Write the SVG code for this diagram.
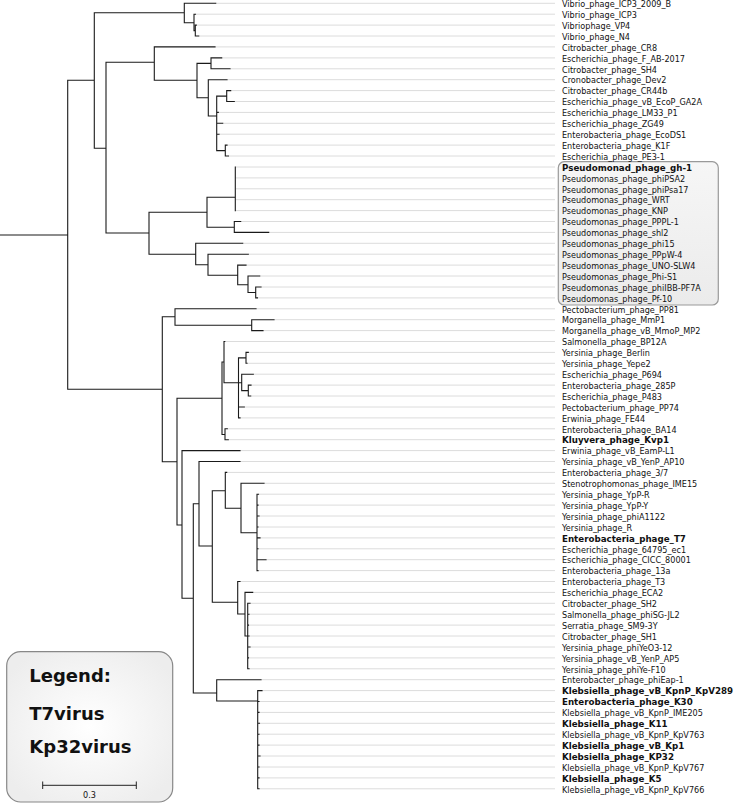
<svg xmlns="http://www.w3.org/2000/svg" width="738" height="803" viewBox="0 0 738 803">
<style>
.br{fill:none;stroke:#1a1a1a;stroke-width:1.1;stroke-linecap:square}
.gd{fill:none;stroke:#dcdcdc;stroke-width:1}
.lbl{font-family:"DejaVu Sans",Verdana,sans-serif;font-size:8.1px;fill:#111}
.b{font-weight:bold;font-size:8.7px}
.lg{font-family:"DejaVu Sans",Verdana,sans-serif;font-size:18px;font-weight:bold;fill:#111}
</style>
<defs>
<linearGradient id="hl" x1="0" y1="0" x2="0" y2="1">
<stop offset="0" stop-color="#f6f6f6"/><stop offset="1" stop-color="#ebebeb"/>
</linearGradient>
<radialGradient id="lgf" cx="0.5" cy="0.5" r="0.6">
<stop offset="0" stop-color="#ffffff"/><stop offset="1" stop-color="#ededed"/>
</radialGradient>
</defs>
<rect id="highlight" x="558.3" y="161.7" width="160" height="143.3" rx="6" fill="url(#hl)" stroke="#999" stroke-width="1.2"/>
<g id="connectors">
<path class="gd" d="M215.7,3.3H555M195.5,14.2H555M196.3,25.1H555M198.7,36H555M215,46.9H555M221.7,57.9H555M230,68.8H555M227,79.7H555M230.7,90.6H555M234.3,101.5H555M218.3,112.4H555M222.7,123.3H555M219,134.2H555M227,145.1H555M228.5,156H555M235.3,167H555M235.3,177.9H555M235.3,188.8H555M235.3,199.7H555M235.3,210.6H555M240.7,221.5H555M268.7,232.4H555M242.7,243.3H555M248.3,254.2H555M246,265.1H555M259.7,276H555M261,287H555M257.5,297.9H555M256,308.8H555M274,319.7H555M263,330.6H555M224.8,341.5H555M248.3,352.4H555M247,363.3H555M253.3,374.2H555M251,385.1H555M250.7,396H555M244.3,407H555M240,417.9H555M227.3,428.8H555M228.3,439.7H555M240,450.6H555M240,461.5H555M226.7,472.4H555M264,483.3H555M258.5,494.2H555M258,505.1H555M259,516H555M258,527H555M260,537.9H555M258,548.8H555M266,559.7H555M258,570.6H555M240,581.5H555M252.7,592.4H555M250,603.3H555M249,614.2H555M248.5,625.1H555M249,636H555M250,647H555M248.5,657.9H555M249,668.8H555M261,679.7H555M262,690.6H555M259,701.5H555M259,712.4H555M259.5,723.3H555M259,734.2H555M259,745.1H555M260,756H555M259,767H555M259,777.9H555M259,788.8H555"/>
<path class="br" d="M0,235H67.7
M67.7,80.3V389.3M67.7,80.3H94.3M67.7,389.3H162.3
M94.3,12.7V148.3M94.3,12.7H184.3M94.3,148.3H106
M184.3,3.3V22.7M184.3,3.3H215.7M184.3,22.7H194
M194,14.2V30.6M194,14.2H195.5M194,30.6H195.3
M195.3,25.1V36M195.3,25.1H196.3M195.3,36H198.7
M106,62.3V233M106,62.3H154.3M106,233H149
M154.3,46.9V80.3M154.3,46.9H215M154.3,80.3H197
M197,63.4V97.7M197,63.4H211M197,97.7H208.3
M211,57.9V68.8M211,57.9H221.7M211,68.8H230
M208.3,79.7V116M208.3,79.7H227M208.3,116H216.7
M216.7,96.1V150.6M216.7,96.1H226.7M216.7,112.4H218.3M216.7,123.3H222.7M216.7,134.2H219M216.7,150.6H225.3
M226.7,90.6V101.5M226.7,90.6H230.7M226.7,101.5H234.3
M225.3,145.1V156M225.3,145.1H227M225.3,156H228.5
M149,212.3V254.3M149,212.3H207M149,254.3H195.7
M207,197.3V227.3M207,197.3H235.3M207,227.3H234.3
M235.3,167V210.6
M234.3,221.5V232.4M234.3,221.5H240.7M234.3,232.4H268.7
M195.7,243.3V264.7M195.7,243.3H242.7M195.7,264.7H208
M208,254.2V275.3M208,254.2H248.3M208,275.3H237.7
M237.7,265.1V284.7M237.7,265.1H246M237.7,284.7H248
M248,276V292.5M248,276H259.7M248,292.5H255.7
M255.7,287V297.9M255.7,287H261M255.7,297.9H257.5
M162.3,316.7V461.7M162.3,316.7H175M162.3,461.7H177
M175,308.8V325.2M175,308.8H256M175,325.2H251.7
M251.7,319.7V330.6M251.7,319.7H274M251.7,330.6H263
M177,398.3V525M177,398.3H222M177,525H182
M222,362V434.5M222,362H224M222,434.5H225
M224,341.5V382.7M224,341.5H224.8M224,382.7H238.5
M238.5,357.9V417.9M238.5,357.9H246M238.5,382.7H241.7M238.5,407H244.3M238.5,417.9H240
M246,352.4V363.3M246,352.4H248.3M246,363.3H247
M241.7,374.2V390.6M241.7,374.2H253.3M241.7,390.6H248.3
M248.3,385.1V396M248.3,385.1H251M248.3,396H250.7
M225,428.8V439.7M225,428.8H227.3M225,439.7H228.3
M182,450.6V598.3M182,450.6H240M182,598.3H193.3
M193.3,503.7V693M193.3,503.7H199M193.3,693H216.7
M199,461.5V546M199,461.5H240M199,546H212.3
M212.3,490.7V602.3M212.3,490.7H225.3M212.3,602.3H237.7
M225.3,472.4V508.3M225.3,472.4H226.7M225.3,508.3H241
M241,483.3V532.7M241,483.3H264M241,532.7H257
M257,494.2V570.6M257,494.2H258.5M257,505.1H258M257,516H259M257,527H258M257,537.9H260M257,548.8H258M257,559.7H266M257,570.6H258
M237.7,581.5V614M237.7,581.5H240M237.7,614H245
M245,592.4V636M245,592.4H252.7M245,636H247.7
M247.7,603.3V668.8M247.7,603.3H250M247.7,614.2H249M247.7,625.1H248.5M247.7,636H249M247.7,647H250M247.7,657.9H248.5M247.7,668.8H249
M216.7,679.7V701M216.7,679.7H261M216.7,701H257.7
M257.7,690.6V788.8M257.7,690.6H262M257.7,701.5H259M257.7,712.4H259M257.7,723.3H259.5M257.7,734.2H259M257.7,745.1H259M257.7,756H260M257.7,767H259M257.7,777.9H259M257.7,788.8H259"/>
</g>
<g id="leaf1"><text class="lbl" x="562" y="7.1">Vibrio_phage_ICP3_2009_B</text></g>
<g id="leaf2"><text class="lbl" x="562" y="17.9">Vibrio_phage_ICP3</text></g>
<g id="leaf3"><text class="lbl" x="562" y="28.8">Vibriophage_VP4</text></g>
<g id="leaf4"><text class="lbl" x="562" y="39.7">Vibrio_phage_N4</text></g>
<g id="leaf5"><text class="lbl" x="562" y="50.6">Citrobacter_phage_CR8</text></g>
<g id="leaf6"><text class="lbl" x="562" y="61.6">Escherichia_phage_F_AB-2017</text></g>
<g id="leaf7"><text class="lbl" x="562" y="72.5">Citrobacter_phage_SH4</text></g>
<g id="leaf8"><text class="lbl" x="562" y="83.4">Cronobacter_phage_Dev2</text></g>
<g id="leaf9"><text class="lbl" x="562" y="94.3">Citrobacter_phage_CR44b</text></g>
<g id="leaf10"><text class="lbl" x="562" y="105.2">Escherichia_phage_vB_EcoP_GA2A</text></g>
<g id="leaf11"><text class="lbl" x="562" y="116.1">Escherichia_phage_LM33_P1</text></g>
<g id="leaf12"><text class="lbl" x="562" y="127">Escherichia_phage_ZG49</text></g>
<g id="leaf13"><text class="lbl" x="562" y="137.9">Enterobacteria_phage_EcoDS1</text></g>
<g id="leaf14"><text class="lbl" x="562" y="148.8">Enterobacteria_phage_K1F</text></g>
<g id="leaf15"><text class="lbl" x="562" y="159.7">Escherichia_phage_PE3-1</text></g>
<g id="leaf16"><text class="lbl b" x="562" y="170.7">Pseudomonad_phage_gh-1</text></g>
<g id="leaf17"><text class="lbl" x="562" y="181.6">Pseudomonas_phage_phiPSA2</text></g>
<g id="leaf18"><text class="lbl" x="562" y="192.5">Pseudomonas_phage_phiPsa17</text></g>
<g id="leaf19"><text class="lbl" x="562" y="203.4">Pseudomonas_phage_WRT</text></g>
<g id="leaf20"><text class="lbl" x="562" y="214.3">Pseudomonas_phage_KNP</text></g>
<g id="leaf21"><text class="lbl" x="562" y="225.2">Pseudomonas_phage_PPPL-1</text></g>
<g id="leaf22"><text class="lbl" x="562" y="236.1">Pseudomonas_phage_shl2</text></g>
<g id="leaf23"><text class="lbl" x="562" y="247">Pseudomonas_phage_phi15</text></g>
<g id="leaf24"><text class="lbl" x="562" y="257.9">Pseudomonas_phage_PPpW-4</text></g>
<g id="leaf25"><text class="lbl" x="562" y="268.8">Pseudomonas_phage_UNO-SLW4</text></g>
<g id="leaf26"><text class="lbl" x="562" y="279.7">Pseudomonas_phage_Phi-S1</text></g>
<g id="leaf27"><text class="lbl" x="562" y="290.7">Pseudomonas_phage_phiIBB-PF7A</text></g>
<g id="leaf28"><text class="lbl" x="562" y="301.6">Pseudomonas_phage_Pf-10</text></g>
<g id="leaf29"><text class="lbl" x="562" y="312.5">Pectobacterium_phage_PP81</text></g>
<g id="leaf30"><text class="lbl" x="562" y="323.4">Morganella_phage_MmP1</text></g>
<g id="leaf31"><text class="lbl" x="562" y="334.3">Morganella_phage_vB_MmoP_MP2</text></g>
<g id="leaf32"><text class="lbl" x="562" y="345.2">Salmonella_phage_BP12A</text></g>
<g id="leaf33"><text class="lbl" x="562" y="356.1">Yersinia_phage_Berlin</text></g>
<g id="leaf34"><text class="lbl" x="562" y="367">Yersinia_phage_Yepe2</text></g>
<g id="leaf35"><text class="lbl" x="562" y="377.9">Escherichia_phage_P694</text></g>
<g id="leaf36"><text class="lbl" x="562" y="388.8">Enterobacteria_phage_285P</text></g>
<g id="leaf37"><text class="lbl" x="562" y="399.7">Escherichia_phage_P483</text></g>
<g id="leaf38"><text class="lbl" x="562" y="410.7">Pectobacterium_phage_PP74</text></g>
<g id="leaf39"><text class="lbl" x="562" y="421.6">Erwinia_phage_FE44</text></g>
<g id="leaf40"><text class="lbl" x="562" y="432.5">Enterobacteria_phage_BA14</text></g>
<g id="leaf41"><text class="lbl b" x="562" y="443.4">Kluyvera_phage_Kvp1</text></g>
<g id="leaf42"><text class="lbl" x="562" y="454.3">Erwinia_phage_vB_EamP-L1</text></g>
<g id="leaf43"><text class="lbl" x="562" y="465.2">Yersinia_phage_vB_YenP_AP10</text></g>
<g id="leaf44"><text class="lbl" x="562" y="476.1">Enterobacteria_phage_3/7</text></g>
<g id="leaf45"><text class="lbl" x="562" y="487">Stenotrophomonas_phage_IME15</text></g>
<g id="leaf46"><text class="lbl" x="562" y="497.9">Yersinia_phage_YpP-R</text></g>
<g id="leaf47"><text class="lbl" x="562" y="508.8">Yersinia_phage_YpP-Y</text></g>
<g id="leaf48"><text class="lbl" x="562" y="519.7">Yersinia_phage_phiA1122</text></g>
<g id="leaf49"><text class="lbl" x="562" y="530.7">Yersinia_phage_R</text></g>
<g id="leaf50"><text class="lbl b" x="562" y="541.6">Enterobacteria_phage_T7</text></g>
<g id="leaf51"><text class="lbl" x="562" y="552.5">Escherichia_phage_64795_ec1</text></g>
<g id="leaf52"><text class="lbl" x="562" y="563.4">Escherichia_phage_CICC_80001</text></g>
<g id="leaf53"><text class="lbl" x="562" y="574.3">Enterobacteria_phage_13a</text></g>
<g id="leaf54"><text class="lbl" x="562" y="585.2">Enterobacteria_phage_T3</text></g>
<g id="leaf55"><text class="lbl" x="562" y="596.1">Escherichia_phage_ECA2</text></g>
<g id="leaf56"><text class="lbl" x="562" y="607">Citrobacter_phage_SH2</text></g>
<g id="leaf57"><text class="lbl" x="562" y="617.9">Salmonella_phage_phiSG-JL2</text></g>
<g id="leaf58"><text class="lbl" x="562" y="628.8">Serratia_phage_SM9-3Y</text></g>
<g id="leaf59"><text class="lbl" x="562" y="639.7">Citrobacter_phage_SH1</text></g>
<g id="leaf60"><text class="lbl" x="562" y="650.7">Yersinia_phage_phiYeO3-12</text></g>
<g id="leaf61"><text class="lbl" x="562" y="661.6">Yersinia_phage_vB_YenP_AP5</text></g>
<g id="leaf62"><text class="lbl" x="562" y="672.5">Yersinia_phage_phiYe-F10</text></g>
<g id="leaf63"><text class="lbl" x="562" y="683.4">Enterobacter_phage_phiEap-1</text></g>
<g id="leaf64"><text class="lbl b" x="562" y="694.3">Klebsiella_phage_vB_KpnP_KpV289</text></g>
<g id="leaf65"><text class="lbl b" x="562" y="705.2">Enterobacteria_phage_K30</text></g>
<g id="leaf66"><text class="lbl" x="562" y="716.1">Klebsiella_phage_vB_KpnP_IME205</text></g>
<g id="leaf67"><text class="lbl b" x="562" y="727">Klebsiella_phage_K11</text></g>
<g id="leaf68"><text class="lbl" x="562" y="737.9">Klebsiella_phage_vB_KpnP_KpV763</text></g>
<g id="leaf69"><text class="lbl b" x="562" y="748.8">Klebsiella_phage_vB_Kp1</text></g>
<g id="leaf70"><text class="lbl b" x="562" y="759.7">Klebsiella_phage_KP32</text></g>
<g id="leaf71"><text class="lbl" x="562" y="770.7">Klebsiella_phage_vB_KpnP_KpV767</text></g>
<g id="leaf72"><text class="lbl b" x="562" y="781.6">Klebsiella_phage_K5</text></g>
<g id="leaf73"><text class="lbl" x="562" y="792.5">Klebsiella_phage_vB_KpnP_KpV766</text></g>
<g id="legend">
<rect x="6.7" y="651.7" width="166" height="150.3" rx="14" fill="url(#lgf)" stroke="#888" stroke-width="1.2"/>
<text class="lg" x="29.3" y="681.7">Legend:</text>
<text class="lg" x="29.3" y="720">T7virus</text>
<text class="lg" x="29.3" y="752.7">Kp32virus</text>
<path d="M42.7,785.3H136.3M42.7,781.5V789M136.3,781.5V789" fill="none" stroke="#222" stroke-width="1"/>
<text class="lbl" x="89.5" y="798.3" text-anchor="middle">0.3</text>
</g>
</svg>
